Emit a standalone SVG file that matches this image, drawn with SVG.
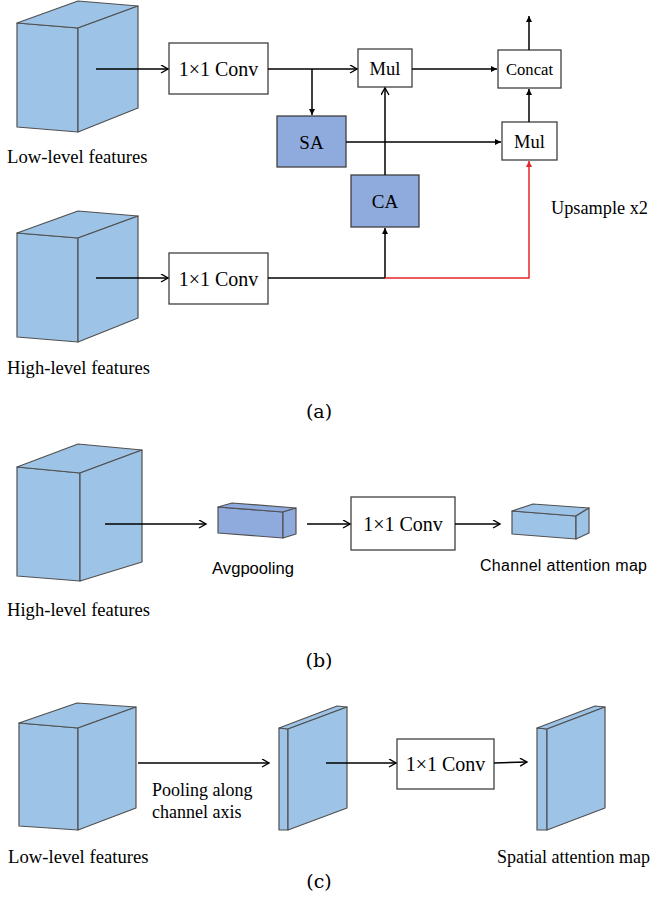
<svg xmlns="http://www.w3.org/2000/svg" width="652" height="915" viewBox="0 0 652 915">
<defs>
<style>
.lt{fill:#9dc3e6;stroke:#505050;stroke-width:1.2;stroke-linejoin:round}
.dk{fill:#8faadc;stroke:#505050;stroke-width:1.2;stroke-linejoin:round}
.box{fill:#ffffff;stroke:#404040;stroke-width:1.3}
.abox{fill:#8faadc;stroke:#404040;stroke-width:1.3}
.ln{fill:none;stroke:#000;stroke-width:1.5}
.red{fill:none;stroke:#e8262a;stroke-width:1.5}
.s{font-family:"Liberation Serif","Times New Roman",serif;fill:#000}
.ss{font-family:"Liberation Sans",Arial,sans-serif;fill:#000}
.cap{font-family:"DejaVu Serif","Liberation Serif",serif;font-size:19px;fill:#000}
</style>
<marker id="op" markerUnits="userSpaceOnUse" markerWidth="10" markerHeight="10" refX="8" refY="4.5" orient="auto">
<path d="M1,0.5 L8,4.5 L1,8.5" fill="none" stroke="#000" stroke-width="1.4"/>
</marker>
<marker id="fl" markerUnits="userSpaceOnUse" markerWidth="8" markerHeight="8" refX="6" refY="3" orient="auto">
<path d="M0,0 L6,3 L0,6 Z" fill="#000"/>
</marker>
<marker id="flr" markerUnits="userSpaceOnUse" markerWidth="8" markerHeight="8" refX="6" refY="3" orient="auto">
<path d="M0,0 L6,3 L0,6 Z" fill="#e8262a"/>
</marker>
</defs>

<!-- Panel (a) -->
<g id="low-cube-a">
<polygon class="lt" points="17,23 78,28 78,132 17,127"/>
<polygon class="lt" points="17,23 78,1 138,6 78,28"/>
<polygon class="lt" points="78,28 138,6 138,108 78,132"/>
<text class="s" x="7" y="163" font-size="18.7">Low-level features</text>
</g>
<g id="high-cube-a">
<polygon class="lt" points="17,233 78,238 78,342 17,337"/>
<polygon class="lt" points="17,233 78,211 138,216 78,238"/>
<polygon class="lt" points="78,238 138,216 138,318 78,342"/>
<text class="s" x="7" y="374" font-size="18.6">High-level features</text>
</g>
<g id="conv1-a">
<rect class="box" x="169" y="43" width="99" height="51"/>
<text class="s" x="218.5" y="76" font-size="20" text-anchor="middle">1×1 Conv</text>
</g>
<g id="conv2-a">
<rect class="box" x="169" y="253" width="99" height="51"/>
<text class="s" x="218.5" y="286" font-size="20" text-anchor="middle">1×1 Conv</text>
</g>
<g id="sa">
<rect class="abox" x="277" y="116" width="69" height="51"/>
<text class="s" x="311.5" y="149" font-size="19" text-anchor="middle">SA</text>
</g>
<g id="ca">
<rect class="abox" x="351" y="175" width="68" height="52"/>
<text class="s" x="385" y="208" font-size="19" text-anchor="middle">CA</text>
</g>
<g id="mul1">
<rect class="box" x="358" y="49" width="54" height="38"/>
<text class="s" x="385" y="75" font-size="18.5" text-anchor="middle">Mul</text>
</g>
<g id="concat">
<rect class="box" x="498" y="50" width="63" height="38"/>
<text class="s" x="529.5" y="75" font-size="16.6" text-anchor="middle">Concat</text>
</g>
<g id="mul2">
<rect class="box" x="502" y="122" width="55" height="38"/>
<text class="s" x="529.5" y="148" font-size="18.5" text-anchor="middle">Mul</text>
</g>
<g id="upsample-label">
<text class="s" x="551" y="214" font-size="18.3">Upsample x2</text>
</g>
<g id="cap-a"><text class="cap" x="319" y="418" text-anchor="middle">(a)</text></g>

<!-- Panel (b) -->
<g id="high-cube-b">
<polygon class="lt" points="17,467 80,473 80,581 17,576"/>
<polygon class="lt" points="17,467 78,444 142,450 80,473"/>
<polygon class="lt" points="80,473 142,450 142,562 80,581"/>
<text class="s" x="7" y="616" font-size="18.6">High-level features</text>
</g>
<g id="avgpool">
<polygon class="dk" points="218,507 283,512 283,538 218,533"/>
<polygon class="dk" points="218,507 232,503 296,508 283,512"/>
<polygon class="dk" points="283,512 296,508 296,534 283,538"/>
<text class="ss" x="253" y="574" font-size="16.6" text-anchor="middle">Avgpooling</text>
</g>
<g id="conv-b">
<rect class="box" x="351" y="497" width="104" height="53"/>
<text class="s" x="403" y="531" font-size="20" text-anchor="middle">1×1 Conv</text>
</g>
<g id="channel-map">
<polygon class="lt" points="512,511 576,516 576,539 512,534"/>
<polygon class="lt" points="512,511 533,504 589,508 576,516"/>
<polygon class="lt" points="576,516 589,508 589,533 576,539"/>
<text class="ss" x="480" y="571" font-size="16" letter-spacing="0.3">Channel attention map</text>
</g>
<g id="cap-b"><text class="cap" x="319" y="667" text-anchor="middle">(b)</text></g>

<!-- Panel (c) -->
<g id="low-cube-c">
<polygon class="lt" points="19,723 78,728 78,830 19,826"/>
<polygon class="lt" points="19,723 77,703 136,707 78,728"/>
<polygon class="lt" points="78,728 136,707 136,808 78,830"/>
<text class="s" x="8" y="863" font-size="18.7">Low-level features</text>
</g>
<g id="pool-label">
<text class="s" x="152" y="796" font-size="18">Pooling along</text>
<text class="s" x="152" y="818" font-size="18">channel axis</text>
</g>
<g id="slab1">
<polygon class="lt" points="279,728 288,729 288,830 279,830"/>
<polygon class="lt" points="279,728 337,706 347,707 288,729"/>
<polygon class="lt" points="288,729 347,707 347,808 288,830"/>
</g>
<g id="conv-c">
<rect class="box" x="397" y="739" width="97" height="50"/>
<text class="s" x="445.5" y="771" font-size="20" text-anchor="middle">1×1 Conv</text>
</g>
<g id="slab2">
<polygon class="lt" points="537,728 547,729 547,830 537,830"/>
<polygon class="lt" points="537,728 595,706 605,707 547,729"/>
<polygon class="lt" points="547,729 605,707 605,808 547,830"/>
<text class="s" x="497" y="863" font-size="18">Spatial attention map</text>
</g>
<g id="cap-c"><text class="cap" x="319" y="888" text-anchor="middle">(c)</text></g>

<g id="connectors">
<!-- (a) -->
<line class="ln" x1="96" y1="69" x2="168" y2="69" marker-end="url(#op)"/>
<line class="ln" x1="268" y1="69" x2="357" y2="69" marker-end="url(#op)"/>
<line class="ln" x1="312" y1="69" x2="312" y2="115" marker-end="url(#fl)"/>
<line class="ln" x1="412" y1="69" x2="497" y2="69" marker-end="url(#fl)"/>
<line class="ln" x1="529" y1="50" x2="529" y2="16" marker-end="url(#fl)"/>
<line class="ln" x1="529" y1="122" x2="529" y2="89" marker-end="url(#fl)"/>
<line class="ln" x1="346" y1="142" x2="501" y2="142" marker-end="url(#fl)"/>
<line class="ln" x1="385" y1="175" x2="385" y2="88" marker-end="url(#op)"/>
<line class="ln" x1="96" y1="278" x2="168" y2="278" marker-end="url(#op)"/>
<polyline class="ln" points="268,278 385,278"/>
<line class="ln" x1="385" y1="278" x2="385" y2="228" marker-end="url(#fl)"/>
<polyline class="red" points="385,278 529,278 529,161" marker-end="url(#flr)"/>
<!-- (b) -->
<line class="ln" x1="105" y1="524" x2="206" y2="524" marker-end="url(#op)"/>
<line class="ln" x1="307" y1="524" x2="350" y2="524" marker-end="url(#op)"/>
<line class="ln" x1="455" y1="524" x2="500" y2="524" marker-end="url(#op)"/>
<!-- (c) -->
<line class="ln" x1="138" y1="763" x2="269" y2="763" marker-end="url(#op)"/>
<line class="ln" x1="326" y1="763" x2="396" y2="763" marker-end="url(#op)"/>
<line class="ln" x1="494" y1="763" x2="527" y2="762" marker-end="url(#op)"/>
</g>
</svg>
